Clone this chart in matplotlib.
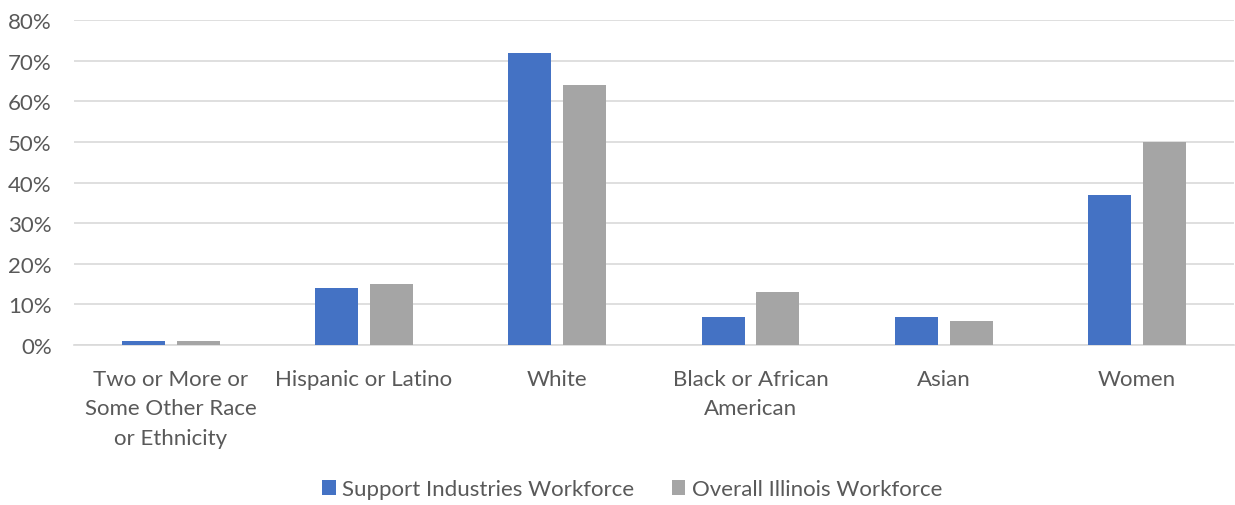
import matplotlib
matplotlib.use("Agg")
import matplotlib.pyplot as plt
import numpy as np
from matplotlib.ticker import PercentFormatter

categories = ["Two or More or\nSome Other Race\nor Ethnicity", "Hispanic or Latino", "White",
              "Black or African\nAmerican", "Asian", "Women"]
support = [1, 14, 72, 7, 7, 37]
overall = [1, 15, 64, 13, 6, 50]
series_names = ["Support Industries Workforce", "Overall Illinois Workforce"]
yticks = [0, 10, 20, 30, 40, 50, 60, 70, 80]

plt.rcParams['font.family'] = ['Lato', 'DejaVu Sans']
txt = '#595959'

fig = plt.figure(figsize=(12.35, 5.06), dpi=100)
ax = fig.add_axes([0.0599, 0.316, 0.939, 0.6425])
x = np.arange(len(categories))
w = 0.2225
off = 0.142
ax.bar(x - off, support, w, color='#4472C4', label=series_names[0], zorder=3)
ax.bar(x + off, overall, w, color='#A5A5A5', label=series_names[1], zorder=3)

ax.set_xlim(-0.5, len(categories) - 0.5)
ax.set_ylim(0, 80)
ax.set_yticks(yticks)
ax.yaxis.set_major_formatter(PercentFormatter(decimals=0))
ax.grid(axis='y', color='#D9D9D9', linewidth=1.2, zorder=0)
for s in ['top', 'right', 'left']:
    ax.spines[s].set_visible(False)
ax.spines['bottom'].set_color('#D9D9D9')
ax.spines['bottom'].set_linewidth(1.2)
ax.tick_params(axis='both', length=0, labelsize=16, colors=txt)
ax.tick_params(axis='y', pad=16)
ax.set_xticks(x)
ax.set_xticklabels(categories, linespacing=1.6, va='top')
ax.tick_params(axis='x', pad=17)

leg = fig.legend(loc='center', bbox_to_anchor=(0.512, 0.031), ncol=2, frameon=False,
                 fontsize=16, handlelength=0.6, handleheight=0.6, handletextpad=0.3,
                 columnspacing=1.7, labelcolor=txt)
fig.savefig('out.png', dpi=100)
